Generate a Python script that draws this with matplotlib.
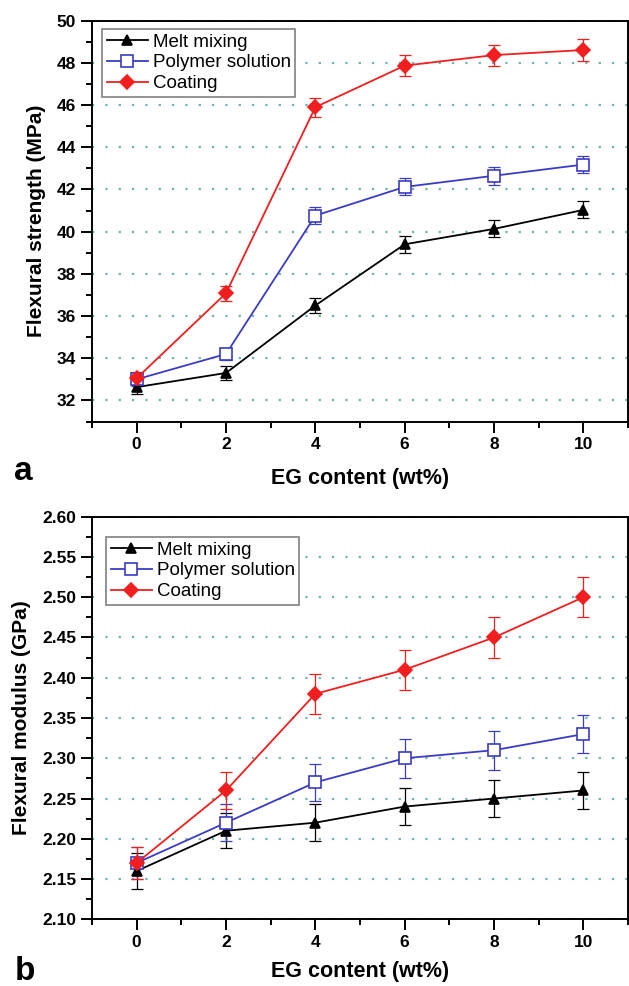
import matplotlib
matplotlib.use('Agg')
import matplotlib.pyplot as plt
from matplotlib.ticker import MultipleLocator, FormatStrFormatter

plt.rcParams['font.family'] = ['Liberation Sans', 'DejaVu Sans']

# 数据
eg_content = [0, 2, 4, 6, 8, 10]

# a: 弯曲强度 (MPa)
strength_melt = [32.63, 33.3, 36.5, 39.4, 40.13, 41.03]
strength_melt_err = [0.35, 0.35, 0.35, 0.4, 0.4, 0.4]
strength_poly = [33.0, 34.2, 40.76, 42.12, 42.65, 43.18]
strength_poly_err = [0.3, 0.3, 0.4, 0.4, 0.42, 0.42]
strength_coat = [33.05, 37.08, 45.9, 47.87, 48.37, 48.61]
strength_coat_err = [0.3, 0.35, 0.45, 0.5, 0.5, 0.5]

# b: 弯曲模量 (GPa)
modulus_melt = [2.16, 2.21, 2.22, 2.24, 2.25, 2.26]
modulus_melt_err = [0.022, 0.022, 0.023, 0.023, 0.023, 0.023]
modulus_poly = [2.17, 2.22, 2.27, 2.30, 2.31, 2.33]
modulus_poly_err = [0.02, 0.023, 0.023, 0.024, 0.024, 0.024]
modulus_coat = [2.17, 2.26, 2.38, 2.41, 2.45, 2.50]
modulus_coat_err = [0.02, 0.023, 0.025, 0.025, 0.025, 0.025]

series_names = ['Melt mixing', 'Polymer solution', 'Coating']
colors = ['black', '#3b3bc4', '#f01e1e']
markers = ['^', 's', 'D']
grid_color = '#6fb0b0'

W, H = 629, 986
fig = plt.figure(figsize=(W / 100, H / 100), dpi=100)


def px_axes(left, top, right, bottom):
    return fig.add_axes([left / W, 1 - bottom / H, (right - left) / W, (bottom - top) / H])


def draw_panel(ax, ys, errs, ylim, major, minor, ylabel, fmt, leg_anchor, xpad):
    for y, e, name, c, m in zip(ys, errs, series_names, colors, markers):
        face = 'white' if m == 's' else c
        ms = 8 if m == 's' else 7
        # 误差棒单独画，图例只用线+点
        ax.errorbar(eg_content, y, yerr=e, fmt='none', ecolor=c,
                    elinewidth=0.9, capsize=4, capthick=0.9, zorder=2)
        ax.plot(eg_content, y, color=c, marker=m, markersize=ms,
                markerfacecolor=face, markeredgecolor=c, markeredgewidth=1.2,
                linewidth=1.3, label=name, zorder=3)
    ax.set_xlim(-1, 11)
    ax.set_ylim(*ylim)
    ax.xaxis.set_major_locator(MultipleLocator(2))
    ax.xaxis.set_minor_locator(MultipleLocator(1))
    ax.yaxis.set_major_locator(MultipleLocator(major))
    ax.yaxis.set_minor_locator(MultipleLocator(minor))
    ax.yaxis.set_major_formatter(FormatStrFormatter(fmt))
    ax.tick_params(which='both', direction='out', top=False, right=False, width=1.4)
    ax.tick_params(which='major', length=8, labelsize=12.5)
    ax.tick_params(which='minor', length=4)
    for lab in ax.get_xticklabels() + ax.get_yticklabels():
        lab.set_fontweight('bold')
    for sp in ax.spines.values():
        sp.set_linewidth(1.4)
    ax.grid(axis='y', which='major', color=grid_color, linestyle=(0, (1, 5)), linewidth=1.6)
    ax.set_axisbelow(True)
    ax.set_xlabel('EG content (wt%)', fontsize=15.5, fontweight='bold', labelpad=xpad)
    ax.set_ylabel(ylabel, fontsize=15, fontweight='bold', labelpad=8)
    leg = ax.legend(loc='upper left', fontsize=13.5, frameon=True, fancybox=False,
                    framealpha=1, edgecolor='#808080', handlelength=2.2,
                    handletextpad=0.25, borderpad=0.25, labelspacing=0.2,
                    borderaxespad=0, bbox_to_anchor=leg_anchor)
    leg.get_frame().set_linewidth(1.2)


ax1 = px_axes(92, 20.7, 628, 421.5)
draw_panel(ax1, [strength_melt, strength_poly, strength_coat],
           [strength_melt_err, strength_poly_err, strength_coat_err],
           (31, 50), 2, 1, 'Flexural strength (MPa)', '%d',
           (10 / 536, 1 - 8 / 400.8), 11)

ax2 = px_axes(92, 516.7, 628, 919.3)
draw_panel(ax2, [modulus_melt, modulus_poly, modulus_coat],
           [modulus_melt_err, modulus_poly_err, modulus_coat_err],
           (2.10, 2.60), 0.05, 0.025, 'Flexural modulus (GPa)', '%.2f',
           (14 / 536, 1 - 20 / 402.6), 8)

fig.text(23 / W, 1 - 471 / H, 'a', fontsize=24, fontweight='bold', ha='center', va='center')
fig.text(25 / W, 1 - 971 / H, 'b', fontsize=24, fontweight='bold', ha='center', va='center')

fig.savefig('out.png', dpi=100)
